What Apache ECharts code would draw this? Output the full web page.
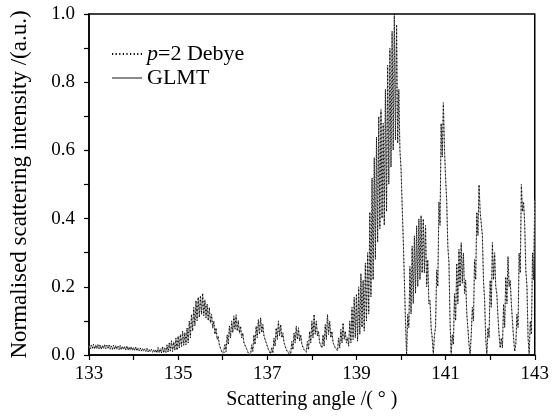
<!DOCTYPE html>
<html>
<head>
<meta charset="utf-8">
<script src="https://cdn.jsdelivr.net/npm/echarts@6/dist/echarts.min.js"></script>
<style>html,body{margin:0;padding:0;background:#fff}#c{width:552px;height:416px}</style>
</head>
<body>
<div id="c"></div>
<script>
// Sampling of the angle axis (degrees)
const angleStart = 133;
const angleStep = 0.025;
const xTicks = [133, 135, 137, 139, 141, 143];
const yTicks = [0.0, 0.2, 0.4, 0.6, 0.8, 1.0];

// p=2 Debye series (one row = 0.25 deg)
const debyeValues = [
0.030,0.018,0.028,0.020,0.032,0.017,0.029,0.019,0.031,0.018,
0.030,0.016,0.027,0.019,0.031,0.018,0.028,0.020,0.030,0.017,
0.026,0.017,0.029,0.016,0.027,0.018,0.025,0.016,0.028,0.015,
0.026,0.016,0.024,0.015,0.027,0.014,0.023,0.015,0.025,0.013,
0.022,0.014,0.024,0.012,0.020,0.013,0.021,0.011,0.019,0.012,
0.018,0.010,0.020,0.009,0.016,0.010,0.017,0.008,0.015,0.007,
0.016,0.006,0.022,0.007,0.018,0.005,0.025,0.006,0.020,0.008,
0.030,0.008,0.035,0.012,0.042,0.010,0.038,0.015,0.050,0.014,
0.055,0.020,0.060,0.025,0.070,0.028,0.065,0.030,0.080,0.035,
0.100,0.050,0.120,0.070,0.140,0.085,0.160,0.100,0.170,0.110,
0.175,0.120,0.182,0.115,0.160,0.110,0.150,0.100,0.140,0.095,
0.120,0.080,0.100,0.060,0.080,0.045,0.055,0.030,0.030,0.010,
0.005,0.000,0.030,0.010,0.060,0.030,0.085,0.050,0.100,0.065,
0.115,0.075,0.118,0.070,0.100,0.065,0.085,0.050,0.065,0.035,
0.040,0.020,0.015,0.005,0.003,0.000,0.030,0.010,0.060,0.030,
0.085,0.050,0.105,0.060,0.110,0.065,0.090,0.055,0.060,0.035,
0.035,0.015,0.010,0.003,0.020,0.005,0.050,0.025,0.080,0.045,
0.100,0.055,0.090,0.050,0.065,0.035,0.040,0.015,0.015,0.005,
0.010,0.003,0.040,0.015,0.065,0.035,0.085,0.045,0.080,0.040,
0.060,0.030,0.035,0.015,0.015,0.008,0.040,0.015,0.070,0.035,
0.100,0.050,0.120,0.060,0.100,0.055,0.070,0.035,0.040,0.020,
0.060,0.025,0.090,0.045,0.120,0.060,0.100,0.050,0.070,0.035,
0.040,0.020,0.025,0.012,0.050,0.020,0.075,0.035,0.095,0.045,
0.070,0.035,0.050,0.025,0.100,0.035,0.140,0.045,0.170,0.050,
0.180,0.040,0.200,0.060,0.240,0.080,0.220,0.070,0.270,0.100,
0.300,0.120,0.420,0.170,0.520,0.220,0.580,0.280,0.640,0.330,
0.700,0.370,0.720,0.400,0.680,0.380,0.780,0.420,0.850,0.500,
0.900,0.550,0.950,0.600,1.000,0.630,0.970,0.620,0.780,0.600,
0.550,0.440,0.340,0.220,0.100,0.000,0.120,0.080,0.260,0.120,
0.320,0.150,0.350,0.180,0.380,0.200,0.400,0.220,0.410,0.240,
0.400,0.240,0.380,0.200,0.280,0.150,0.160,0.080,0.050,0.000,
0.060,0.080,0.250,0.200,0.450,0.380,0.680,0.580,0.740,0.600,
0.520,0.450,0.320,0.270,0.100,0.000,0.060,0.030,0.180,0.100,
0.270,0.150,0.310,0.200,0.330,0.210,0.300,0.180,0.220,0.120,
0.080,0.030,0.000,0.060,0.140,0.100,0.280,0.220,0.420,0.350,
0.500,0.420,0.420,0.350,0.220,0.160,0.050,0.000,0.080,0.050,
0.220,0.140,0.330,0.220,0.300,0.200,0.180,0.110,0.060,0.020,
0.050,0.020,0.150,0.080,0.230,0.150,0.290,0.200,0.220,0.150,
0.100,0.050,0.010,0.030,0.120,0.080,0.300,0.240,0.500,0.420,
0.450,0.380,0.250,0.200,0.050,0.000,0.100,0.060,0.300,0.220,
0.460
];

// GLMT series (one row = 0.25 deg)
const glmtValues = [
0.029,0.019,0.029,0.019,0.031,0.018,0.030,0.018,0.030,0.019,
0.029,0.017,0.028,0.018,0.030,0.019,0.029,0.019,0.029,0.018,
0.027,0.016,0.028,0.017,0.028,0.017,0.026,0.017,0.027,0.016,
0.025,0.017,0.025,0.014,0.026,0.015,0.024,0.014,0.024,0.014,
0.023,0.013,0.023,0.013,0.021,0.012,0.020,0.012,0.020,0.011,
0.017,0.011,0.019,0.010,0.017,0.009,0.016,0.009,0.016,0.008,
0.015,0.007,0.021,0.006,0.019,0.006,0.024,0.007,0.021,0.007,
0.029,0.009,0.036,0.011,0.041,0.011,0.039,0.014,0.049,0.015,
0.056,0.021,0.061,0.024,0.069,0.029,0.066,0.031,0.079,0.036,
0.098,0.052,0.118,0.071,0.138,0.087,0.158,0.102,0.168,0.112,
0.172,0.118,0.178,0.117,0.162,0.108,0.148,0.102,0.138,0.093,
0.118,0.078,0.098,0.062,0.078,0.047,0.053,0.028,0.028,0.012,
0.006,0.001,0.032,0.012,0.058,0.032,0.083,0.052,0.098,0.067,
0.112,0.077,0.115,0.072,0.102,0.063,0.083,0.052,0.063,0.037,
0.038,0.022,0.017,0.006,0.004,0.001,0.028,0.012,0.058,0.032,
0.083,0.052,0.102,0.062,0.108,0.067,0.088,0.057,0.058,0.037,
0.033,0.017,0.012,0.004,0.022,0.007,0.048,0.027,0.078,0.047,
0.098,0.057,0.088,0.052,0.063,0.037,0.038,0.017,0.017,0.006,
0.012,0.004,0.038,0.017,0.063,0.037,0.083,0.047,0.078,0.042,
0.058,0.032,0.033,0.017,0.017,0.009,0.038,0.017,0.068,0.037,
0.098,0.052,0.117,0.062,0.098,0.057,0.068,0.037,0.038,0.022,
0.058,0.027,0.088,0.047,0.117,0.062,0.098,0.052,0.068,0.037,
0.038,0.022,0.027,0.013,0.048,0.022,0.073,0.037,0.092,0.047,
0.068,0.037,0.052,0.027,0.098,0.037,0.137,0.047,0.167,0.052,
0.177,0.042,0.197,0.062,0.237,0.082,0.218,0.072,0.267,0.102,
0.297,0.122,0.417,0.172,0.517,0.222,0.577,0.282,0.637,0.332,
0.697,0.372,0.717,0.402,0.677,0.382,0.777,0.422,0.847,0.502,
0.897,0.552,0.947,0.602,0.995,0.632,0.965,0.622,0.777,0.602,
0.547,0.442,0.337,0.222,0.098,0.002,0.118,0.082,0.257,0.122,
0.317,0.152,0.347,0.182,0.377,0.202,0.397,0.222,0.407,0.242,
0.397,0.242,0.377,0.202,0.277,0.152,0.158,0.082,0.048,0.002,
0.058,0.082,0.247,0.202,0.447,0.382,0.677,0.582,0.737,0.602,
0.517,0.452,0.317,0.272,0.098,0.002,0.058,0.032,0.177,0.102,
0.267,0.152,0.307,0.202,0.327,0.212,0.297,0.182,0.217,0.122,
0.078,0.032,0.002,0.058,0.138,0.102,0.277,0.222,0.417,0.352,
0.497,0.422,0.417,0.352,0.217,0.162,0.048,0.002,0.078,0.052,
0.217,0.142,0.327,0.222,0.297,0.202,0.177,0.112,0.058,0.022,
0.048,0.022,0.148,0.082,0.227,0.152,0.287,0.202,0.217,0.152,
0.098,0.052,0.012,0.032,0.118,0.082,0.297,0.242,0.497,0.422,
0.447,0.382,0.247,0.202,0.048,0.002,0.098,0.062,0.297,0.222,
0.457
];

const angles = debyeValues.map((_, i) => +(angleStart + i * angleStep).toFixed(3));
const debyeData = debyeValues.map((v, i) => [angles[i], v]);
const glmtData = glmtValues.map((v, i) => [angles[i], v]);

const FONT = 'Liberation Serif';
const chart = echarts.init(document.getElementById('c'), null, {renderer: 'canvas'});
chart.setOption({
  animation: false,
  backgroundColor: '#fff',
  grid: {left: 87, right: 16, top: 14, bottom: 61, show: true, borderColor: '#000', borderWidth: 1.5, backgroundColor: 'transparent'},
  legend: {
    left: 106, top: 38, orient: 'vertical', itemWidth: 30, itemHeight: 12, itemGap: 2,
    data: ['p=2 Debye', 'GLMT'],
    itemStyle: {opacity: 0},
    formatter: function (n) { return n === 'p=2 Debye' ? '{it|p}=2 Debye' : n; },
    textStyle: {fontFamily: FONT, fontSize: 22, color: '#000',
      rich: {it: {fontFamily: FONT, fontStyle: 'italic', fontSize: 22, color: '#000'}}}
  },
  xAxis: {
    type: 'value', min: 133, max: 143, interval: 1,
    name: 'Scattering angle /( \u00B0 )', nameLocation: 'middle', nameGap: 35,
    nameTextStyle: {fontFamily: FONT, fontSize: 20, color: '#000'},
    axisLine: {lineStyle: {color: '#000', width: 1.5}},
    axisTick: {inside: false, length: 5, lineStyle: {color: '#000', width: 1.2}},
    axisLabel: {fontFamily: FONT, fontSize: 19, color: '#000', margin: 10,
      formatter: function (v) { return xTicks.indexOf(Math.round(v)) >= 0 ? String(Math.round(v)) : ''; }},
    splitLine: {show: false}
  },
  yAxis: {
    type: 'value', min: 0, max: 1, interval: 0.1,
    name: 'Normalised scattering intensity /(a.u.)', nameLocation: 'middle', nameGap: 58,
    nameTextStyle: {fontFamily: FONT, fontSize: 23, color: '#000'},
    axisLine: {lineStyle: {color: '#000', width: 1.5}},
    axisTick: {inside: false, length: 5, lineStyle: {color: '#000', width: 1.2}},
    axisLabel: {fontFamily: FONT, fontSize: 19, color: '#000', margin: 14,
      formatter: function (v) {
        const r = Math.round(v * 10) / 10;
        return yTicks.some(t => Math.abs(t - r) < 1e-6) ? r.toFixed(1) : '';
      }},
    splitLine: {show: false}
  },
  series: [
    {name: 'GLMT', type: 'line', data: glmtData, symbol: 'none', showSymbol: false, z: 2,
     lineStyle: {color: '#8a8a8a', width: 0.9, type: 'solid'}, itemStyle: {color: '#8a8a8a'}},
    {name: 'p=2 Debye', type: 'line', data: debyeData, symbol: 'none', showSymbol: false, z: 3,
     lineStyle: {color: '#000', width: 1, type: [1.2, 2.4]}, itemStyle: {color: '#000'}}
  ]
});
</script>
</body>
</html>
